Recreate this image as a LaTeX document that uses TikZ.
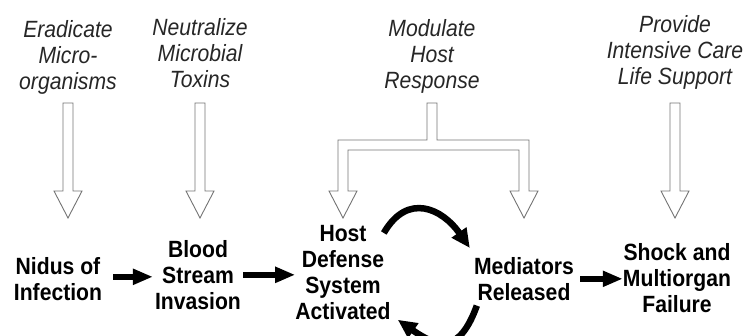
\documentclass[tikz,border=0pt]{standalone}
\usepackage{fontspec}
\setmainfont{Liberation Sans}
\newfontfamily\tallsans[FakeStretch=0.9]{Liberation Sans}
\usetikzlibrary{arrows.meta,calc}

\newcommand\hollowdown[2]{%
  \draw[hollow] ($(#1)+(-5,0)$) -- ($(#2)+(-5,27)$) -- ($(#2)+(-14,27)$) -- (#2)
    -- ($(#2)+(14,27)$) -- ($(#2)+(5,27)$) -- ($(#1)+(5,0)$) -- cycle;}

\begin{document}
\begin{tikzpicture}[x=1pt,y=1pt,
  aim/.style={font=\tallsans\fontsize{23.5}{26}\selectfont\itshape,text=black!85,align=center,inner sep=0pt,anchor=north},
  stage/.style={font=\tallsans\fontsize{23.5}{26}\selectfont\bfseries,align=center,inner sep=0pt,anchor=north},
  hollow/.style={draw=black!55,line width=0.9pt,line join=miter},
  fat/.style={line width=5.5pt,-{Triangle[length=20pt,width=15pt]}},
  loopy/.style={line width=6.5pt,-{Triangle[length=19pt,width=17pt]}}]
  \useasboundingbox (0,0) rectangle (745,336);
  \clip (0,0) rectangle (745,336);
  \node[aim] (erad) at (68,316){Eradicate\\Micro-\\organisms};
  \node[aim] (neut) at (200,318){Neutralize\\Microbial\\Toxins};
  \node[aim] (modu) at (432,317){Modulate\\Host\\Response};
  \node[aim] (prov) at (675,321){Provide\\Intensive Care\\Life Support};
  \node[stage] (nidus) at (58,79){Nidus of\\Infection};
  \node[stage] (blood) at (198,96){Blood\\Stream\\Invasion};
  \node[stage] (host) at (343,111){Host\\Defense\\System\\Activated};
  \node[stage] (mediators) at (524,79){Mediators\\Released};
  \node[stage] (shock) at (677,93){Shock and\\Multiorgan\\Failure};
  \coordinate (topline) at (0,233);
  \coordinate (tipline) at (0,118);
  \coordinate (a1) at (erad.south |- topline);
  \coordinate (b1) at (erad.south |- tipline);
  \coordinate (a2) at (neut.south |- topline);
  \coordinate (b2) at (neut.south |- tipline);
  \coordinate (a4) at (prov.south |- topline);
  \coordinate (b4) at (prov.south |- tipline);
  \hollowdown{a1}{b1}
  \hollowdown{a2}{b2}
  \hollowdown{a4}{b4}
  \coordinate (f0) at (modu.south |- topline);
  \coordinate (fl) at (host.north |- tipline);
  \coordinate (fr) at (mediators.north |- tipline);
  \draw[hollow] ($(f0)+(-5,0)$) -- ($(f0)+(5,0)$) -- ($(f0)+(5,-37)$) -- ($(fr)+(5,78)$)
    -- ($(fr)+(5,27)$) -- ($(fr)+(14,27)$) -- (fr) -- ($(fr)+(-14,27)$) -- ($(fr)+(-5,27)$)
    -- ($(fr)+(-5,68)$) -- ($(fl)+(5,68)$) -- ($(fl)+(5,27)$) -- ($(fl)+(14,27)$) -- (fl)
    -- ($(fl)+(-14,27)$) -- ($(fl)+(-5,27)$) -- ($(fl)+(-5,78)$) -- ($(f0)+(-5,-37)$) -- cycle;
  \draw[fat,shorten >=2pt] ([xshift=11pt,yshift=2pt]nidus.east) -- ([yshift=2pt]nidus.east -| blood.west);
  \draw[fat] ([xshift=2pt]blood.east) -- (blood.east -| host.west);
  \draw[fat] ([xshift=6pt]mediators.east) -- (mediators.east -| shock.west);
  \draw[loopy] ([shift={(-7,-8)}]host.north east) to[out=60,in=125,looseness=1.4] ([shift={(-4,9)}]mediators.north west);
  \draw[loopy] ([shift={(3,-5)}]mediators.south west) to[out=-110,in=-35,looseness=1.6] ([xshift=7pt]host.south east);
\end{tikzpicture}
\end{document}
